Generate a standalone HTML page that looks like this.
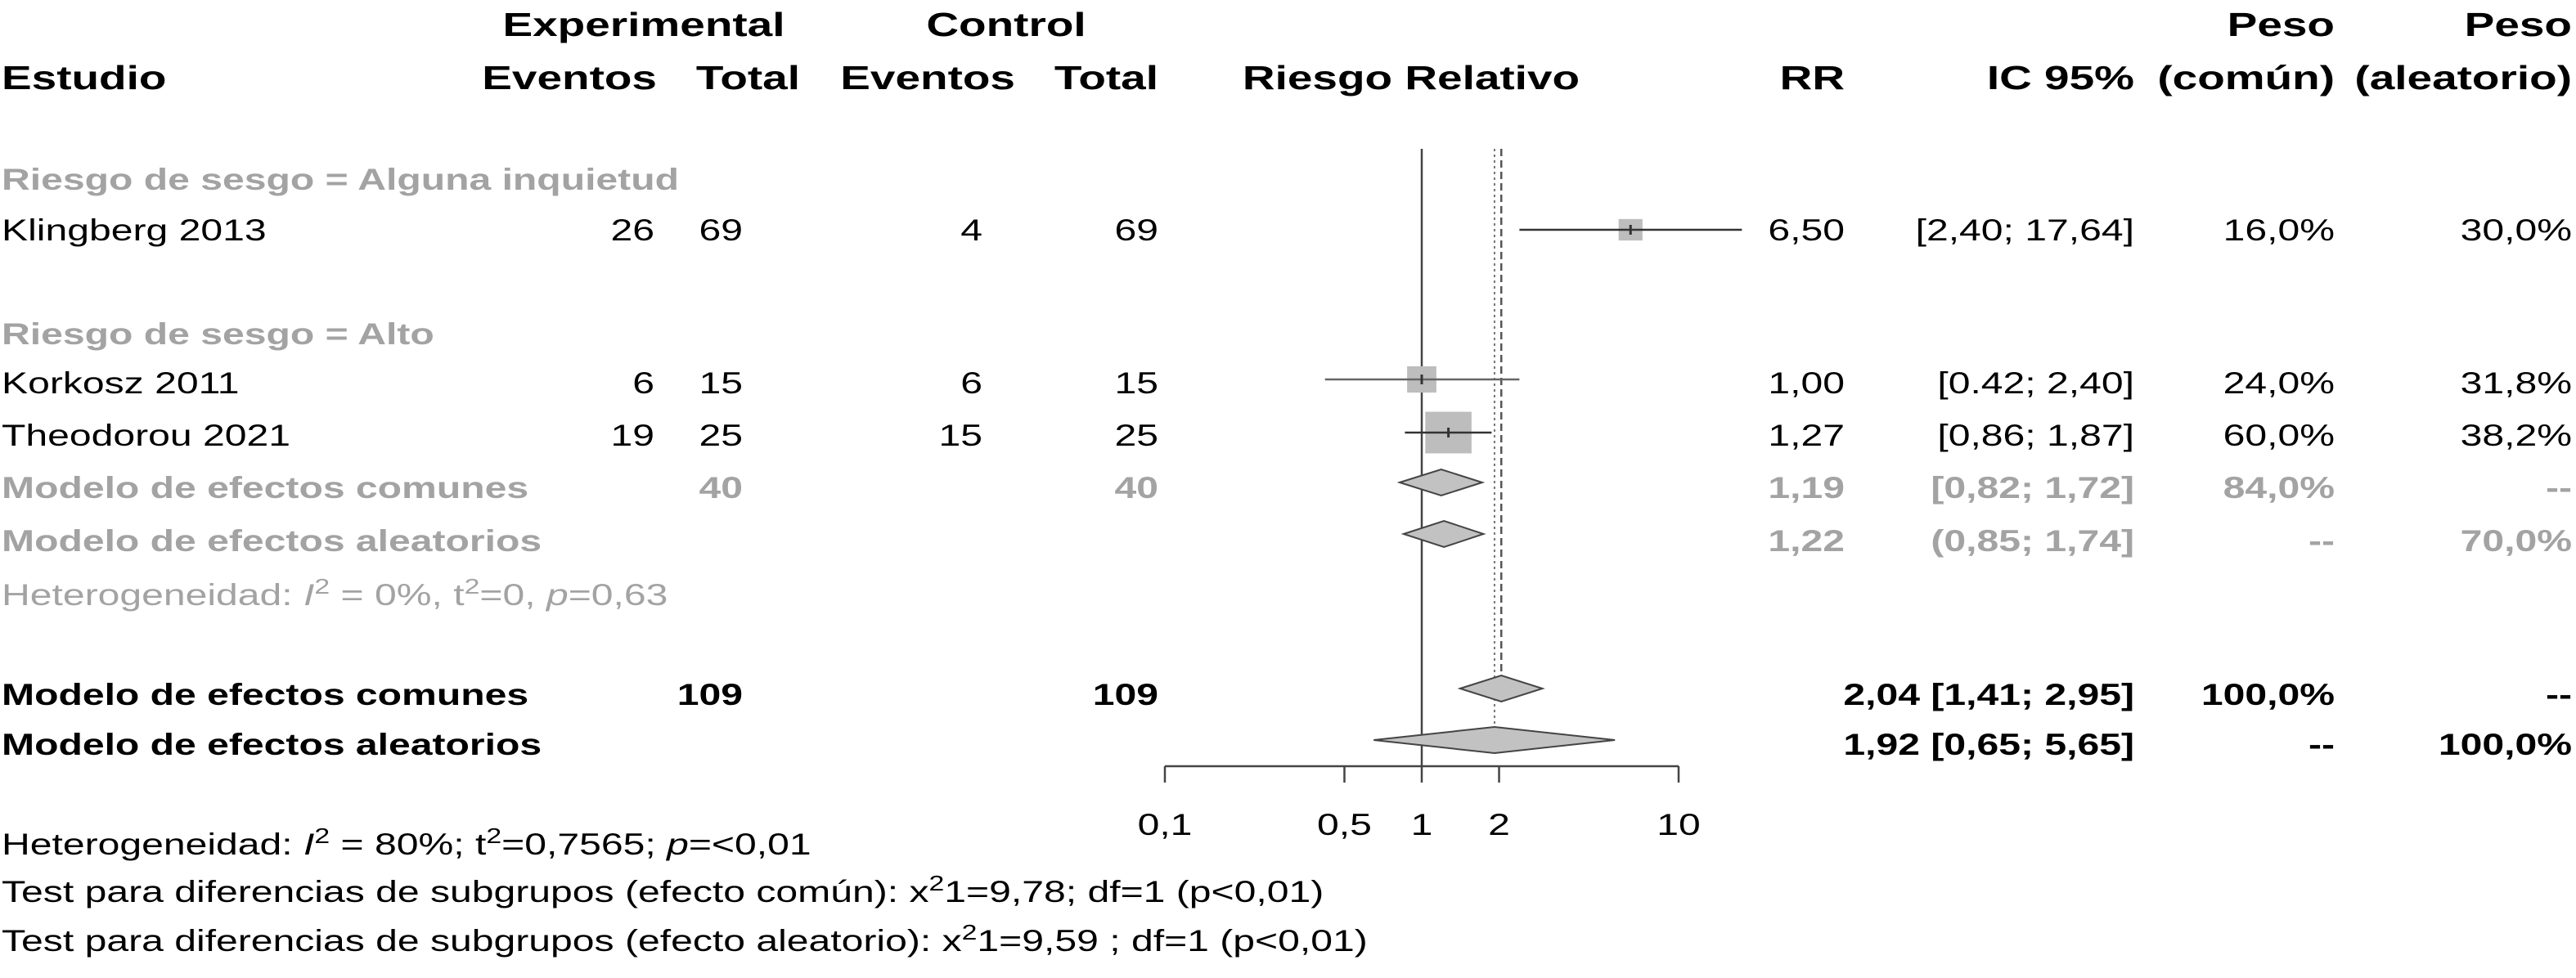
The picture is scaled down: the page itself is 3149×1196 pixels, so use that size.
<!DOCTYPE html>
<html><head><meta charset="utf-8">
<style>
html,body{margin:0;padding:0;background:#fff;}
svg{display:block;}
text{font-family:"Liberation Sans",Arial,sans-serif;font-size:37px;fill:#000;}
.h{font-size:41px;font-weight:bold;}
.b{font-weight:bold;}
.g{fill:#a3a3a3;}
.e{text-anchor:end;}
.m{text-anchor:middle;}
</style></head>
<body>
<svg id="plot" width="3149" height="1196" viewBox="0 0 3149 1196" xmlns="http://www.w3.org/2000/svg">
<g>
<text class="h m" transform="translate(787,44) scale(1.34,1)">Experimental</text>
<text class="h m" transform="translate(1230,44) scale(1.34,1)">Control</text>
<text class="h e" transform="translate(2854,44) scale(1.34,1)">Peso</text>
<text class="h e" transform="translate(3144,44) scale(1.34,1)">Peso</text>
<text class="h" transform="translate(2,109) scale(1.34,1)">Estudio</text>
<text class="h e" transform="translate(803,109) scale(1.34,1)">Eventos</text>
<text class="h e" transform="translate(978,109) scale(1.34,1)">Total</text>
<text class="h e" transform="translate(1241,109) scale(1.34,1)">Eventos</text>
<text class="h e" transform="translate(1416,109) scale(1.34,1)">Total</text>
<text class="h m" transform="translate(1725,109) scale(1.34,1)">Riesgo Relativo</text>
<text class="h e" transform="translate(2255,109) scale(1.34,1)">RR</text>
<text class="h e" transform="translate(2609,109) scale(1.34,1)">IC 95%</text>
<text class="h e" transform="translate(2854,109) scale(1.34,1)">(común)</text>
<text class="h e" transform="translate(3144,109) scale(1.34,1)">(aleatorio)</text>
</g>
<text class="b g" transform="translate(2,232) scale(1.3,1)">Riesgo de sesgo = Alguna inquietud</text>
<g>
<text transform="translate(2,294) scale(1.3,1)">Klingberg 2013</text>
<text class="e" transform="translate(800,294) scale(1.3,1)">26</text>
<text class="e" transform="translate(908,294) scale(1.3,1)">69</text>
<text class="e" transform="translate(1201,294) scale(1.3,1)">4</text>
<text class="e" transform="translate(1416,294) scale(1.3,1)">69</text>
<text class="e" transform="translate(2255,294) scale(1.3,1)">6,50</text>
<text class="e" transform="translate(2609,294) scale(1.3,1)">[2,40; 17,64]</text>
<text class="e" transform="translate(2854,294) scale(1.3,1)">16,0%</text>
<text class="e" transform="translate(3144,294) scale(1.3,1)">30,0%</text>
</g>
<text class="b g" transform="translate(2,421) scale(1.3,1)">Riesgo de sesgo = Alto</text>
<g>
<text transform="translate(2,481) scale(1.3,1)">Korkosz 2011</text>
<text class="e" transform="translate(800,481) scale(1.3,1)">6</text>
<text class="e" transform="translate(908,481) scale(1.3,1)">15</text>
<text class="e" transform="translate(1201,481) scale(1.3,1)">6</text>
<text class="e" transform="translate(1416,481) scale(1.3,1)">15</text>
<text class="e" transform="translate(2255,481) scale(1.3,1)">1,00</text>
<text class="e" transform="translate(2609,481) scale(1.3,1)">[0.42; 2,40]</text>
<text class="e" transform="translate(2854,481) scale(1.3,1)">24,0%</text>
<text class="e" transform="translate(3144,481) scale(1.3,1)">31,8%</text>
</g>
<g>
<text transform="translate(2,545) scale(1.3,1)">Theodorou 2021</text>
<text class="e" transform="translate(800,545) scale(1.3,1)">19</text>
<text class="e" transform="translate(908,545) scale(1.3,1)">25</text>
<text class="e" transform="translate(1201,545) scale(1.3,1)">15</text>
<text class="e" transform="translate(1416,545) scale(1.3,1)">25</text>
<text class="e" transform="translate(2255,545) scale(1.3,1)">1,27</text>
<text class="e" transform="translate(2609,545) scale(1.3,1)">[0,86; 1,87]</text>
<text class="e" transform="translate(2854,545) scale(1.3,1)">60,0%</text>
<text class="e" transform="translate(3144,545) scale(1.3,1)">38,2%</text>
</g>
<g>
<text class="b g" transform="translate(2,609) scale(1.3,1)">Modelo de efectos comunes</text>
<text class="b g e" transform="translate(908,609) scale(1.3,1)">40</text>
<text class="b g e" transform="translate(1416,609) scale(1.3,1)">40</text>
<text class="b g e" transform="translate(2255,609) scale(1.3,1)">1,19</text>
<text class="b g e" transform="translate(2609,609) scale(1.3,1)">[0,82; 1,72]</text>
<text class="b g e" transform="translate(2854,609) scale(1.3,1)">84,0%</text>
<text class="b g e" transform="translate(3144,609) scale(1.3,1)">--</text>
</g>
<g>
<text class="b g" transform="translate(2,674) scale(1.3,1)">Modelo de efectos aleatorios</text>
<text class="b g e" transform="translate(2255,674) scale(1.3,1)">1,22</text>
<text class="b g e" transform="translate(2609,674) scale(1.3,1)">(0,85; 1,74]</text>
<text class="b g e" transform="translate(2854,674) scale(1.3,1)">--</text>
<text class="b g e" transform="translate(3144,674) scale(1.3,1)">70,0%</text>
</g>
<text class="g" transform="translate(2,740) scale(1.3,1)">Heterogeneidad: <tspan font-style="italic">I</tspan><tspan dy="-14" font-size="26">2</tspan><tspan dy="14"> = 0%, t</tspan><tspan dy="-14" font-size="26">2</tspan><tspan dy="14">=0, </tspan><tspan font-style="italic">p</tspan>=0,63</text>
<g>
<text class="b" transform="translate(2,862) scale(1.3,1)">Modelo de efectos comunes</text>
<text class="b e" transform="translate(908,862) scale(1.3,1)">109</text>
<text class="b e" transform="translate(1416,862) scale(1.3,1)">109</text>
<text class="b e" transform="translate(2609,862) scale(1.3,1)">2,04 [1,41; 2,95]</text>
<text class="b e" transform="translate(2854,862) scale(1.3,1)">100,0%</text>
<text class="b e" transform="translate(3144,862) scale(1.3,1)">--</text>
</g>
<g>
<text class="b" transform="translate(2,923) scale(1.3,1)">Modelo de efectos aleatorios</text>
<text class="b e" transform="translate(2609,923) scale(1.3,1)">1,92 [0,65; 5,65]</text>
<text class="b e" transform="translate(2854,923) scale(1.3,1)">--</text>
<text class="b e" transform="translate(3144,923) scale(1.3,1)">100,0%</text>
</g>
<text transform="translate(2,1045) scale(1.3,1)">Heterogeneidad: <tspan font-style="italic">I</tspan><tspan dy="-14" font-size="26">2</tspan><tspan dy="14"> = 80%; t</tspan><tspan dy="-14" font-size="26">2</tspan><tspan dy="14">=0,7565; </tspan><tspan font-style="italic">p</tspan>=&lt;0,01</text>
<text transform="translate(2,1103) scale(1.3,1)">Test para diferencias de subgrupos (efecto común): x<tspan dy="-14" font-size="26">2</tspan><tspan dy="14">1=9,78; df=1 (p&lt;0,01)</tspan></text>
<text transform="translate(2,1163) scale(1.3,1)">Test para diferencias de subgrupos (efecto aleatorio): x<tspan dy="-14" font-size="26">2</tspan><tspan dy="14">1=9,59 ; df=1 (p&lt;0,01)</tspan></text>
<g id="marks"></g>
</svg>
<script>
const studyNames = ["Klingberg 2013", "Korkosz 2011", "Theodorou 2021"];
const studyRR = [6.50, 1.00, 1.27];
const studyLower = [2.40, 0.42, 0.86];
const studyUpper = [17.64, 2.40, 1.87];
const studyWeight = [16.0, 24.0, 60.0];
const studyRows = [281, 464, 529];
const diamondNames = ["subgroup-common", "subgroup-random", "overall-common", "overall-random"];
const diamondEst = [1.19, 1.22, 2.04, 1.92];
const diamondLower = [0.82, 0.85, 1.41, 0.65];
const diamondUpper = [1.72, 1.74, 2.95, 5.65];
const diamondRows = [590, 653, 842, 905];
const tickValues = [0.1, 0.5, 1, 2, 10];
const tickLabels = ["0,1", "0,5", "1", "2", "10"];
const commonEffect = 2.04;
const randomEffect = 1.92;

const NS = "http://www.w3.org/2000/svg";
const g = document.getElementById("marks");
function xs(v) { return 1738 + 314 * Math.log10(v); }
function mk(tag, attrs) {
  const e = document.createElementNS(NS, tag);
  for (const k in attrs) e.setAttribute(k, attrs[k]);
  g.appendChild(e);
  return e;
}
const axisY = 937;
let el = mk("line", {x1: xs(1), x2: xs(1), y1: 182, y2: axisY, stroke: "#444", "stroke-width": 2.5});


el = mk("line", {x1: xs(commonEffect), x2: xs(commonEffect), y1: 182, y2: 826, stroke: "#555", "stroke-width": 2.5, "stroke-dasharray": "9 5"});


el = mk("line", {x1: xs(randomEffect), x2: xs(randomEffect), y1: 182, y2: 890, stroke: "#777", "stroke-width": 2, "stroke-dasharray": "3 4"});


for (let i = 0; i < studyNames.length; i++) {
  const y = studyRows[i];
  const s = 7.3 * Math.sqrt(studyWeight[i]);
  el = mk("rect", {x: xs(studyRR[i]) - s / 2, y: y - s * 0.45, width: s, height: s * 0.9, fill: "#bdbdbd"});
  
  
  el = mk("line", {x1: xs(studyLower[i]), x2: xs(studyUpper[i]), y1: y, y2: y, stroke: i === 1 ? "#666" : "#333", "stroke-width": 2.5});
  
  
  el = mk("line", {x1: xs(studyRR[i]), x2: xs(studyRR[i]), y1: y - 6, y2: y + 6, stroke: "#333", "stroke-width": 3});
  
  
}
for (let i = 0; i < diamondNames.length; i++) {
  const y = diamondRows[i], h = 16;
  const pts = [[xs(diamondLower[i]), y], [xs(diamondEst[i]), y - h], [xs(diamondUpper[i]), y], [xs(diamondEst[i]), y + h]].map(p => p.join(",")).join(" ");
  el = mk("polygon", {points: pts, fill: "#c2c2c2", stroke: "#444", "stroke-width": 2});
  
  
}
el = mk("line", {x1: xs(tickValues[0]), x2: xs(tickValues[tickValues.length - 1]), y1: axisY, y2: axisY, stroke: "#444", "stroke-width": 2.5});


for (let i = 0; i < tickValues.length; i++) {
  const x = xs(tickValues[i]);
  el = mk("line", {x1: x, x2: x, y1: axisY, y2: axisY + 20, stroke: "#444", "stroke-width": 2.5});
  
  
  el = mk("text", {transform: "translate(" + x + ",1021) scale(1.3,1)", "text-anchor": "middle"});
  el.textContent = tickLabels[i];
  
  
}
</script>
</body></html>
